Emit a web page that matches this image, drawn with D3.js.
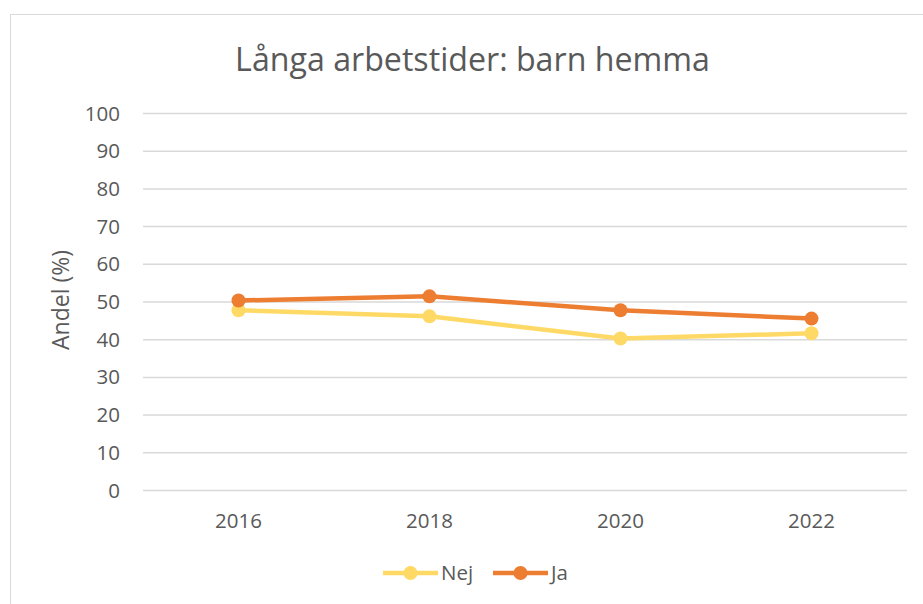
<!DOCTYPE html>
<html><head><meta charset="utf-8">
<script src="https://cdn.jsdelivr.net/npm/d3@7"></script>
<style>body{margin:0;background:#fff}svg{display:block}text{font-family:"Open Sans",sans-serif;fill:#595959}</style>
</head><body>
<svg id="c" width="923" height="604"></svg>
<script>
const years = ["2016","2018","2020","2022"];
const nej = [47.8, 46.2, 40.3, 41.7];
const ja = [50.4, 51.5, 47.8, 45.6];
const yTicks = [0,10,20,30,40,50,60,70,80,90,100];
const seriesNames = ["Nej","Ja"];
const colors = ["#FFD966","#ED7D31"];

const svg = d3.select("#c");
svg.append("rect").attr("x",10.5).attr("y",14.5).attr("width",930).attr("height",600)
  .attr("fill","#fff").attr("stroke","#d9d9d9").attr("stroke-width",1);

const x = d3.scaleBand().domain(years).range([143,907]);
const y = d3.scaleLinear().domain([0,100]).range([490.5,113.5]);

svg.append("g").selectAll("line").data(yTicks).join("line")
  .attr("x1",143).attr("x2",907).attr("y1",d=>y(d)).attr("y2",d=>y(d))
  .attr("stroke","#d9d9d9").attr("stroke-width",1.5);

const yAxis = d3.axisLeft(y).tickValues(yTicks).tickSize(0).tickPadding(0);
const gy = svg.append("g").attr("transform","translate(120,0)").call(yAxis);
gy.select(".domain").remove();
gy.selectAll("text").attr("font-size",20.5).attr("fill","#595959").attr("font-family","Open Sans");

const xAxis = d3.axisBottom(x).tickSize(0).tickPadding(0);
const gx = svg.append("g").attr("transform","translate(0,513)").call(xAxis);
gx.select(".domain").remove();
gx.selectAll("text").attr("font-size",20.5).attr("fill","#595959").attr("font-family","Open Sans");

// y title
svg.append("text").attr("transform","translate(69,300) rotate(-90)").attr("text-anchor","middle")
  .attr("font-size",23).text("Andel (%)");

// title
const t = svg.append("text").attr("x",472.5).attr("y",71).attr("text-anchor","middle")
  .attr("font-size",30).text("Långa arbetstider: barn hemma");
const tw = t.node().getComputedTextLength();
t.attr("font-size",30*475/tw);

const line = d3.line().x((d,i)=>x(years[i])+x.bandwidth()/2).y(d=>y(d));
[nej, ja].forEach((s,k)=>{
  svg.append("path").datum(s).attr("d",line).attr("fill","none")
    .attr("stroke",colors[k]).attr("stroke-width",4.5).attr("stroke-linejoin","round");
  svg.append("g").selectAll("circle").data(s).join("circle")
    .attr("cx",(d,i)=>x(years[i])+x.bandwidth()/2).attr("cy",d=>y(d)).attr("r",7)
    .attr("fill",colors[k]);
});

// legend
const leg = [{x:383, tx:441},{x:493, tx:551}];
seriesNames.forEach((n,k)=>{
  const g = svg.append("g");
  g.append("line").attr("x1",leg[k].x).attr("x2",leg[k].x+55).attr("y1",573).attr("y2",573)
    .attr("stroke",colors[k]).attr("stroke-width",4.5);
  g.append("circle").attr("cx",leg[k].x+27.5).attr("cy",573).attr("r",7).attr("fill",colors[k]);
  g.append("text").attr("x",leg[k].tx).attr("y",580).attr("font-size",20.5).text(n);
});
</script>
</body></html>
